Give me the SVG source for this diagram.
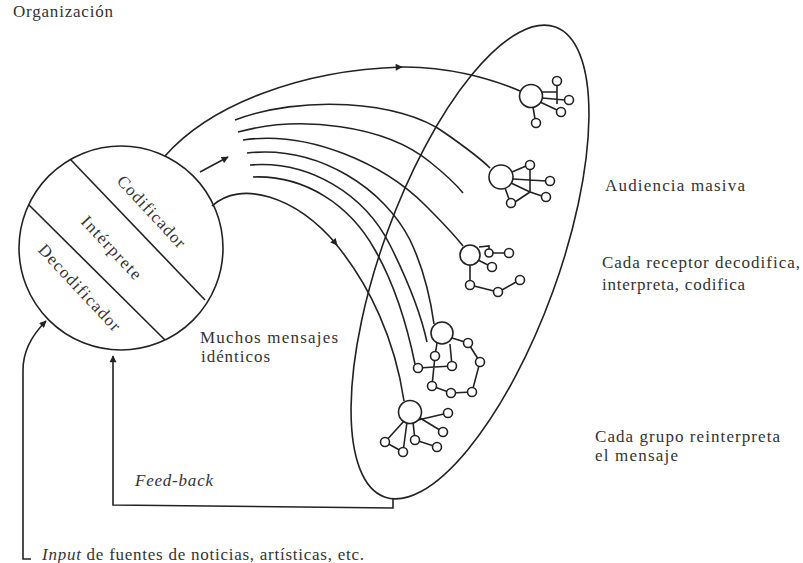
<svg xmlns="http://www.w3.org/2000/svg" width="803" height="563" viewBox="0 0 803 563">
<style>
.ln{fill:none;stroke:#222;stroke-width:1.6}
.rc{fill:#fff;stroke:#222;stroke-width:1.6}
.t{font-family:"Liberation Serif","Times New Roman",serif;font-size:17px;fill:#333}
.it{font-style:italic}
</style>
<defs>
<marker id="ah" viewBox="0 0 10 10" refX="9" refY="5" markerWidth="9" markerHeight="7" markerUnits="userSpaceOnUse" orient="auto"><path d="M0,0 L10,5 L0,10 z" fill="#222"/></marker>
</defs>
<rect width="803" height="563" fill="#fff"/>

<g id="organizacion">
<text class="t" x="13" y="17" textLength="100" lengthAdjust="spacing">Organización</text>
</g>

<g id="source">
<circle class="ln" cx="121" cy="248" r="102" stroke-width="2"/>
<line class="ln" x1="70" y1="159" x2="205" y2="300"/>
<line class="ln" x1="29" y1="205" x2="165" y2="340"/>
<text class="t" transform="translate(151,212) rotate(47)" x="0" y="5" text-anchor="middle" textLength="92" lengthAdjust="spacing">Codificador</text>
<text class="t" transform="translate(111,248) rotate(47)" x="0" y="5" text-anchor="middle" textLength="80" lengthAdjust="spacing">Intérprete</text>
<text class="t" transform="translate(79,288) rotate(47)" x="0" y="5" text-anchor="middle" textLength="112" lengthAdjust="spacing">Decodificador</text>
</g>

<g id="audiencia">
<ellipse class="ln" cx="470" cy="262" rx="250" ry="88" transform="rotate(-70 470 262)" stroke-width="2"/>
</g>

<g id="connectors">
<path class="ln" d="M165 156 C210 105 300 70 402 67" marker-end="url(#ah)"/>
<path class="ln" d="M400 67 C445 66 490 78 520 91"/>
<path class="ln" d="M235 120 C300 95 400 100 445 133 C465 147 480 158 490 168"/>
<path class="ln" d="M238 132 C300 115 385 125 430 162 C445 174 455 183 463 193"/>
<path class="ln" d="M243 140 C310 130 385 165 425 205 C440 220 452 232 463 246"/>
<path class="ln" d="M247 153 C320 145 385 190 410 240 C422 265 430 295 434 324"/>
<path class="ln" d="M250 165 C310 160 365 195 390 245 C405 275 420 310 427 342"/>
<path class="ln" d="M253 177 C305 175 350 205 375 250 C395 285 408 330 415 364"/>
<path class="ln" d="M212 206 C240 180 295 195 337 245" marker-end="url(#ah)"/>
<path class="ln" d="M335 243 C370 285 395 340 404 401"/>
<line class="ln" x1="200" y1="172" x2="228" y2="157" marker-end="url(#ah)"/>
<path class="ln" d="M393 499 L393 508 L113 505 L113 356" marker-end="url(#ah)"/>
<path class="ln" d="M31 559 L23 559 L23 370 C23 350 32 335 46 321" marker-end="url(#ah)"/>
</g>

<g id="receptor1">
<path class="ln" d="M542 92 L557 92 M557 85 L557 104 M542 98 L565 100 M540 102 L557 110 M533 107 L535 119"/>
<circle class="rc" cx="531" cy="96" r="11.5"/>
<circle class="rc" cx="557" cy="81" r="4.5"/>
<circle class="rc" cx="569" cy="100" r="4.5"/>
<circle class="rc" cx="561" cy="112" r="4.5"/>
<circle class="rc" cx="536" cy="123" r="4.5"/>
</g>

<g id="receptor2">
<path class="ln" d="M512 172 L526 166 M530 169 L530 192 M513 179 L546 181 M511 183 L530 192 L542 196 M530 192 L515 202 M505 188 L509 199"/>
<circle class="rc" cx="501" cy="177" r="12"/>
<circle class="rc" cx="530" cy="165" r="4.5"/>
<circle class="rc" cx="550" cy="181" r="4.5"/>
<circle class="rc" cx="546" cy="197" r="4.5"/>
<circle class="rc" cx="511" cy="203" r="4.5"/>
</g>

<g id="receptor3">
<path class="ln" d="M479 247 L489 246 L489 249 M493 253 L506 253 M478 260 L488 265 M470 265 L470 281 M474 286 L494 291 M502 290 L516 282"/>
<circle class="rc" cx="470" cy="255" r="10"/>
<circle class="rc" cx="489" cy="253" r="4"/>
<circle class="rc" cx="509" cy="253" r="4.5"/>
<circle class="rc" cx="492" cy="267" r="4.5"/>
<circle class="rc" cx="470" cy="285" r="4.5"/>
<circle class="rc" cx="498" cy="292" r="4.5"/>
<circle class="rc" cx="520" cy="280" r="4.5"/>
</g>

<g id="receptor4">
<path class="ln" d="M452 338 L468 343 L480 362 L472 392 L451 393 L432 386 L435 356 L437 343 M450 344 L452 366 M418 368 L452 366"/>
<circle class="rc" cx="442" cy="333" r="11"/>
<circle class="rc" cx="468" cy="343" r="4.5"/>
<circle class="rc" cx="480" cy="362" r="4.5"/>
<circle class="rc" cx="472" cy="392" r="4.5"/>
<circle class="rc" cx="451" cy="393" r="4.5"/>
<circle class="rc" cx="432" cy="386" r="4.5"/>
<circle class="rc" cx="435" cy="356" r="4.5"/>
<circle class="rc" cx="452" cy="366" r="4.5"/>
<circle class="rc" cx="418" cy="368" r="4.5"/>
</g>

<g id="receptor5">
<path class="ln" d="M418 420 L448 413 M420 418 L443 432 M413 422 L415 440 L437 447 M404 421 L385 442 L403 452 M407 422 L403 452"/>
<circle class="rc" cx="410" cy="412" r="11.5"/>
<circle class="rc" cx="448" cy="413" r="4.5"/>
<circle class="rc" cx="443" cy="432" r="4.5"/>
<circle class="rc" cx="437" cy="447" r="4.5"/>
<circle class="rc" cx="415" cy="440" r="4.5"/>
<circle class="rc" cx="403" cy="452" r="4.5"/>
<circle class="rc" cx="385" cy="442" r="4.5"/>
</g>

<g id="labels">
<text class="t" x="605" y="191" textLength="140" lengthAdjust="spacing">Audiencia masiva</text>
<text class="t" x="602" y="268" textLength="198" lengthAdjust="spacing">Cada receptor decodifica,</text>
<text class="t" x="602" y="290" textLength="143" lengthAdjust="spacing">interpreta, codifica</text>
<text class="t" x="200" y="343" textLength="138" lengthAdjust="spacing">Muchos mensajes</text>
<text class="t" x="201" y="362" textLength="69" lengthAdjust="spacing">idénticos</text>
<text class="t" x="595" y="442" textLength="185" lengthAdjust="spacing">Cada grupo reinterpreta</text>
<text class="t" x="595" y="461" textLength="83" lengthAdjust="spacing">el mensaje</text>
<text class="t it" x="135" y="486" textLength="78" lengthAdjust="spacing">Feed-back</text>
<text class="t" x="42" y="560" textLength="322" lengthAdjust="spacing"><tspan class="it">Input</tspan> de fuentes de noticias, artísticas, etc.</text>
</g>
</svg>
